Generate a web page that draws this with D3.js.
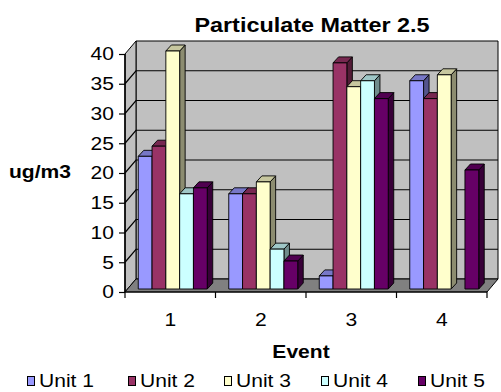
<!DOCTYPE html>
<html>
<head>
<meta charset="utf-8">
<script src="https://cdn.jsdelivr.net/npm/d3@7"></script>
<style>
  html, body { margin: 0; padding: 0; background: #fff; }
  svg { display: block; }
  text { font-family: "Liberation Sans", Arial, sans-serif; fill: #000; }
</style>
</head>
<body>
<svg id="chart" width="501" height="392"></svg>
<script>
// PM2.5 readings per event for each unit
const events = ["1", "2", "3", "4"];
const units = ["Unit 1", "Unit 2", "Unit 3", "Unit 4", "Unit 5"];
const unit1 = [22.3, 16, 2.2, 35];
const unit2 = [24, 16, 38, 32];
const unit3 = [40, 18, 34, 36];
const unit4 = [16, 6.7, 35, 0];
const unit5 = [17, 4.7, 32, 20];
const yTicks = [0, 5, 10, 15, 20, 25, 30, 35, 40];
const unitColors = ["#9999FF", "#993366", "#FFFFCC", "#CCFFFF", "#660066"];

const seriesValues = [unit1, unit2, unit3, unit4, unit5];

const svg = d3.select("#chart");
const SX = 1.17; // horizontal text stretch

// Plot frame (front plane) and the depth offset of the walls
const plotLeft = 125, plotRight = 487, plotBottom = 292, plotTop = 54;
const depth = { dx: 11, dy: -13 };
const barOff = { dx: 2.5, dy: -3 };     // front face of bars inside the box
const barDepth = { dx: 5.5, dy: -6 };   // thickness of each bar

const y = d3.scaleLinear().domain([0, 40]).range([plotBottom, plotTop]);
const x = d3.scaleBand().domain(events).range([plotLeft, plotRight]).padding(0);
const xu = d3.scaleBand().domain(units).range([0, x.bandwidth()]).paddingInner(0).paddingOuter(0.78);

const shade = (c, k) => { const h = d3.rgb(c); return d3.rgb(h.r * k, h.g * k, h.b * k).formatHex(); };
const pts = a => a.map(p => p.join(",")).join(" ");

function stretchText(parent, str, px, py, anchor, size, weight) {
  parent.append("text")
    .attr("transform", `translate(${px},${py}) scale(${SX},1)`)
    .attr("text-anchor", anchor)
    .attr("dominant-baseline", "central")
    .attr("font-size", size)
    .attr("font-weight", weight)
    .text(str);
}

// Walls and floor
const box = svg.append("g");
box.append("polygon")
  .attr("points", pts([[plotLeft + depth.dx, y(40) + depth.dy], [plotRight + depth.dx, y(40) + depth.dy],
                       [plotRight + depth.dx, y(0) + depth.dy], [plotLeft + depth.dx, y(0) + depth.dy]]))
  .attr("fill", "#C0C0C0").attr("stroke", "#000").attr("stroke-width", 1);
box.append("polygon")
  .attr("points", pts([[plotLeft, y(0)], [plotLeft + depth.dx, y(0) + depth.dy],
                       [plotLeft + depth.dx, y(40) + depth.dy], [plotLeft, y(40)]]))
  .attr("fill", "#C0C0C0").attr("stroke", "#000").attr("stroke-width", 1);
box.append("polygon")
  .attr("points", pts([[plotLeft, y(0)], [plotRight, y(0)], [plotRight + depth.dx, y(0) + depth.dy],
                       [plotLeft + depth.dx, y(0) + depth.dy]]))
  .attr("fill", "#808080").attr("stroke", "#000").attr("stroke-width", 1);

// Gridlines across the side wall and back wall
yTicks.filter(t => t > 0 && t < 40).forEach(t => {
  box.append("polyline")
    .attr("points", pts([[plotLeft, y(t)], [plotLeft + depth.dx, y(t) + depth.dy], [plotRight + depth.dx, y(t) + depth.dy]]))
    .attr("fill", "none").attr("stroke", "#000").attr("stroke-width", 1.2);
});

// Bars: front, top and right-side faces
const bars = svg.append("g").attr("stroke", "#000").attr("stroke-width", 0.9).attr("stroke-linejoin", "round");
events.forEach((ev, i) => {
  units.forEach((u, j) => {
    const v = seriesValues[j][i];
    if (v <= 0) return;
    const c = unitColors[j];
    const x0 = x(ev) + xu(u) + barOff.dx, x1 = x0 + xu.bandwidth();
    const y0 = y(0) + barOff.dy, y1 = y(v) + barOff.dy;
    const ddx = barDepth.dx, ddy = barDepth.dy;
    bars.append("polygon").attr("points", pts([[x1, y0], [x1 + ddx, y0 + ddy], [x1 + ddx, y1 + ddy], [x1, y1]]))
      .attr("fill", shade(c, 0.55));
    bars.append("polygon").attr("points", pts([[x0, y1], [x1, y1], [x1 + ddx, y1 + ddy], [x0 + ddx, y1 + ddy]]))
      .attr("fill", shade(c, 0.78));
    bars.append("rect").attr("x", x0).attr("y", y1).attr("width", x1 - x0).attr("height", y0 - y1)
      .attr("fill", c);
  });
});

// Axes
const yAxis = d3.axisLeft(y).tickValues(yTicks).tickSize(6).tickFormat(d3.format("d"));
const gy = svg.append("g").attr("transform", `translate(${plotLeft},0)`).call(yAxis);
gy.select(".domain").attr("stroke", "#000").attr("stroke-width", 1.5).attr("d", `M0,${y(0)}V${y(40)}`);
gy.selectAll(".tick line").attr("stroke", "#000").attr("stroke-width", 1.2);
gy.selectAll(".tick text").remove();
yTicks.forEach(t => stretchText(svg, "" + t, plotLeft - 11, y(t), "end", 18, "normal"));

const gx = svg.append("g").attr("transform", `translate(0,${plotBottom})`);
gx.append("line").attr("x1", plotLeft).attr("x2", plotRight).attr("stroke", "#000").attr("stroke-width", 1.2);
[plotLeft, ...events.map(e => x(e) + x.bandwidth())].forEach(px => {
  gx.append("line").attr("x1", px).attr("x2", px).attr("y1", 0).attr("y2", 6)
    .attr("stroke", "#000").attr("stroke-width", 1.2);
});
events.forEach(e => stretchText(svg, e, x(e) + x.bandwidth() / 2, 320, "middle", 18, "normal"));

// Titles
stretchText(svg, "Particulate Matter 2.5", 312, 25, "middle", 20, "bold");
stretchText(svg, "Event", 301, 352, "middle", 18, "bold");
stretchText(svg, "ug/m3", 40, 172, "middle", 18, "bold");

// Legend
const legendX = [27, 128, 224, 321, 418];
units.forEach((u, j) => {
  svg.append("rect").attr("x", legendX[j] + 0.5).attr("y", 376.5).attr("width", 7).attr("height", 9)
    .attr("fill", unitColors[j]).attr("stroke", "#000").attr("stroke-width", 1);
  stretchText(svg, u, legendX[j] + 12, 381, "start", 18, "normal");
});
</script>
</body>
</html>
